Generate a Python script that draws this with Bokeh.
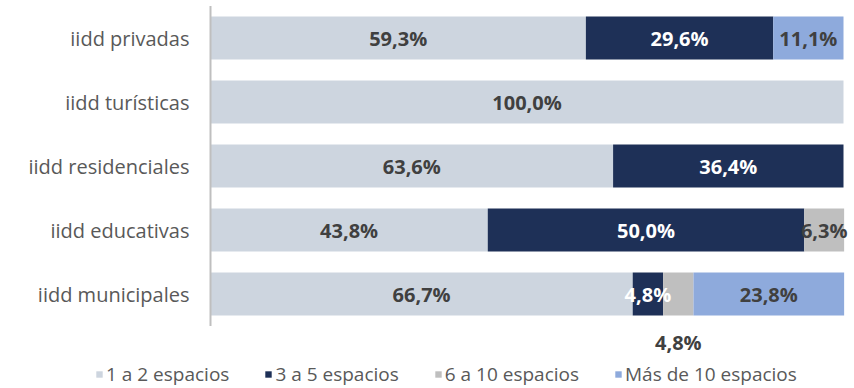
from bokeh.plotting import figure
from bokeh.models import Range1d, Legend, LegendItem, ColumnDataSource
from bokeh.core.properties import value
from bokeh.embed import file_html
from bokeh.resources import INLINE

categories = ["iidd privadas", "iidd turísticas", "iidd residenciales", "iidd educativas", "iidd municipales"]
series_names = ["1 a 2 espacios", "3 a 5 espacios", "6 a 10 espacios", "Más de 10 espacios"]
s1 = [59.3, 100.0, 63.6, 43.8, 66.7]
s2 = [29.6, 0.0, 36.4, 50.0, 4.8]
s3 = [0.0, 0.0, 0.0, 6.3, 4.8]
s4 = [11.1, 0.0, 0.0, 0.0, 23.8]
colors = ["#CDD5DF", "#1E3057", "#BFBFBF", "#8EAADC"]
label_colors = ["#404040", "#FFFFFF", "#404040", "#404040"]

FONT = "Open Sans"
n = len(categories)
ypos = [n - 1 - i for i in range(n)]  # top to bottom

W, H = 854, 388
PLOT_LEFT, PLOT_RIGHT = 210, 843       # pixel span of 0..100 %
PX_PER_UNIT = (PLOT_RIGHT - PLOT_LEFT) / 100.0
BAND_PX = 64.0
x0 = -PLOT_LEFT / PX_PER_UNIT
x1 = 100 + (W - PLOT_RIGHT) / PX_PER_UNIT
ytop = max(ypos) + 37.5 / BAND_PX
ybot = ytop - H / BAND_PX

p = figure(width=W, height=H, output_backend="svg", toolbar_location=None,
           x_range=Range1d(x0, x1), y_range=Range1d(ybot, ytop),
           min_border=0, min_border_left=0, min_border_right=0, min_border_top=0, min_border_bottom=0)
p.outline_line_color = None
p.xgrid.visible = False
p.ygrid.visible = False
p.xaxis.visible = False
p.yaxis.visible = False

src = ColumnDataSource(dict(y=ypos, s1=s1, s2=s2, s3=s3, s4=s4))
keys = ["s1", "s2", "s3", "s4"]
renderers = p.hbar_stack(keys, y="y", height=0.67, color=colors, line_color=None, source=src)

# axis line at 0 spanning the category bands
p.segment(x0=[0], y0=[min(ypos) - 0.5], x1=[0], y1=[max(ypos) + 0.5], line_color="#BFBFBF", line_width=2)

# category labels
csrc = ColumnDataSource(dict(x=[0] * n, y=ypos, t=categories))
p.text(x="x", y="y", text="t", source=csrc, x_offset=-21,
       text_font=value(FONT), text_font_size="20px", text_color="#595959",
       text_align="right", text_baseline="middle")

# value labels
series = [s1, s2, s3, s4]
lx, ly, lt, lc, loff = [], [], [], [], []
for i in range(n):
    cum = 0.0
    for k in range(4):
        v = series[k][i]
        if v > 0:
            lx.append(cum + v / 2)
            ly.append(ypos[i])
            lt.append(f"{v:.1f}".replace(".", ",") + "%")
            # the narrow grey segment of the last bar has its label below the bar
            below = (k == 2 and categories[i] == "iidd municipales")
            lc.append("#404040" if below else label_colors[k])
            loff.append(48 if below else 0)
        cum += v
lsrc = ColumnDataSource(dict(x=lx, y=ly, t=lt, c=lc, o=loff))
p.text(x="x", y="y", text="t", text_color="c", y_offset="o", source=lsrc,
       text_font=value(FONT), text_font_style="bold", text_font_size="20px",
       text_align="center", text_baseline="middle")

items = [LegendItem(label=nm, renderers=[r]) for nm, r in zip(series_names, renderers)]
legend = Legend(items=items, orientation="horizontal", location=(95, 1),
                label_text_font=FONT, label_text_font_size="19px", label_text_color="#595959",
                glyph_width=8, glyph_height=8, label_standoff=3, spacing=35, label_height=16,
                padding=0, margin=0, border_line_color=None, background_fill_alpha=0)
p.add_layout(legend, "center")

open("out.html", "w").write(file_html(p, INLINE))
